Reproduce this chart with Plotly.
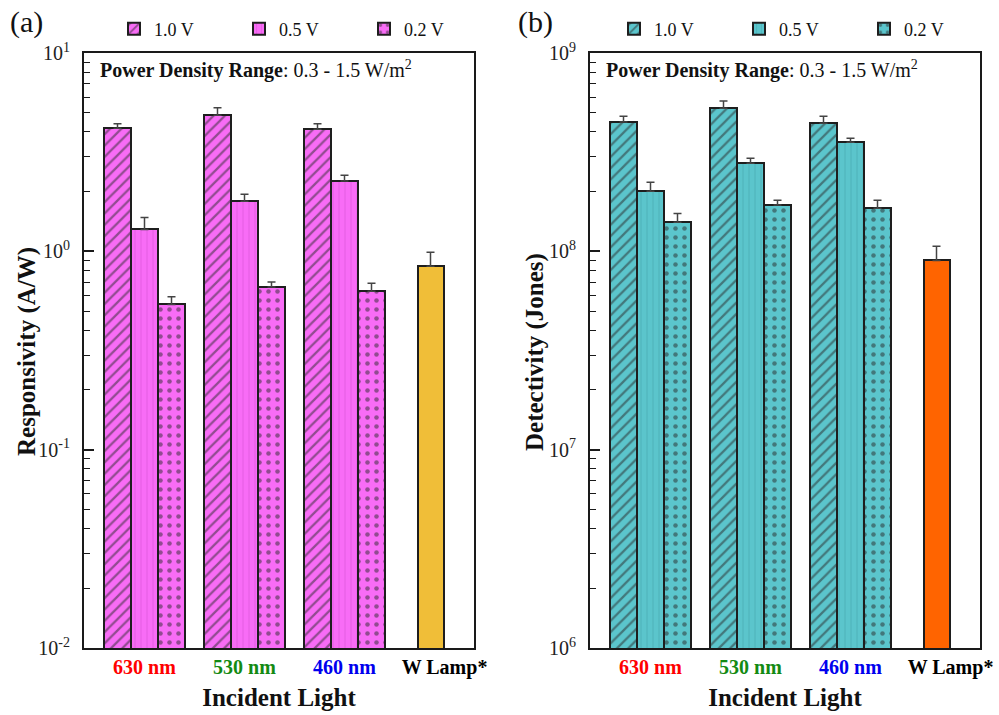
import numpy as np
import plotly.graph_objects as go

# ---- data -------------------------------------------------------------
wavelengths = ["630 nm", "530 nm", "460 nm"]
lamp = "W Lamp*"
bias_labels = ["1.0 V", "0.5 V", "0.2 V"]

# Responsivity (A/W) per bias, for 630 / 530 / 460 nm
resp_10 = [4.18, 4.86, 4.13]
resp_05 = [1.29, 1.79, 2.26]
resp_02 = [0.54, 0.66, 0.63]
resp_10_err = [0.22, 0.44, 0.27]
resp_05_err = [0.19, 0.15, 0.16]
resp_02_err = [0.05, 0.04, 0.06]
resp_lamp = [0.84]
resp_lamp_err = [0.15]

# Detectivity (Jones) per bias, for 630 / 530 / 460 nm
det_10 = [4.49e8, 5.27e8, 4.43e8]
det_05 = [2.01e8, 2.78e8, 3.55e8]
det_02 = [1.40e8, 1.71e8, 1.65e8]
det_10_err = [0.31e8, 0.45e8, 0.37e8]
det_05_err = [0.22e8, 0.17e8, 0.17e8]
det_02_err = [0.15e8, 0.10e8, 0.16e8]
det_lamp = [9.0e7]
det_lamp_err = [1.6e7]

resp_ticks = [0.01, 0.1, 1, 10]
resp_ticktext = ["10<sup>-2</sup>", "10<sup>-1</sup>", "10<sup>0</sup>", "10<sup>1</sup>"]
det_ticks = [1e6, 1e7, 1e8, 1e9]
det_ticktext = ["10<sup>6</sup>", "10<sup>7</sup>", "10<sup>8</sup>", "10<sup>9</sup>"]

cat_colors = ["#FF0000", "#138A13", "#0000EE", "#000000"]

# ---- styling ----------------------------------------------------------
FONT = "Liberation Serif"
BAR_W = 0.27
patterns = ["/", "|", "."]
pink, teal = "#F86CF6", "#5BC5CC"
lamp_colors = ["#F0BE38", "#FF6400"]

fig = go.Figure()


def add_panel(xa, ya, legend_name, base, vals, errs, lvals, lerrs, lamp_color):
    for i, (lab, v, e) in enumerate(zip(bias_labels, vals, errs)):
        shape = patterns[i]
        if shape == "|":
            fg = "#C94AC9" if base == pink else "#3E9BA2"
            size, solidity = 6, 0.15
        elif shape == "/":
            fg, size, solidity = "#2a2a2a", 8, 0.28
        else:
            fg, size, solidity = "#2a2a2a", 9, 0.2
        fig.add_trace(go.Bar(
            x=wavelengths, y=v, name=lab, legend=legend_name,
            xaxis=xa, yaxis=ya, width=BAR_W, offset=-1.5 * BAR_W + i * BAR_W,
            marker=dict(color=base, line=dict(color="#1e1e1e", width=2),
                        pattern=dict(shape=shape, fgcolor=fg, size=size,
                                     solidity=solidity, fillmode="overlay")),
            error_y=dict(type="data", array=e, arrayminus=[0] * len(e), symmetric=False,
                         color="#444444", thickness=1.5, width=4),
        ))
    fig.add_trace(go.Bar(
        x=[lamp], y=lvals, name=lamp, showlegend=False,
        xaxis=xa, yaxis=ya, width=BAR_W - 0.01, offset=-BAR_W,
        marker=dict(color=lamp_color, line=dict(color="#1e1e1e", width=2)),
        error_y=dict(type="data", array=lerrs, arrayminus=[0], symmetric=False,
                     color="#444444", thickness=1.5, width=4),
    ))


add_panel("x", "y", "legend", pink, [resp_10, resp_05, resp_02],
          [resp_10_err, resp_05_err, resp_02_err], resp_lamp, resp_lamp_err, lamp_colors[0])
add_panel("x2", "y2", "legend2", teal, [det_10, det_05, det_02],
          [det_10_err, det_05_err, det_02_err], det_lamp, det_lamp_err, lamp_colors[1])

categories = wavelengths + [lamp]
ticktext = [f"<b><span style='color:{c}'>{t}</span></b>" for t, c in zip(categories, cat_colors)]


def log_minor(lo, hi):
    return [m * 10.0 ** d for d in range(lo, hi) for m in range(2, 10)]


W, H = 999, 715
xdom_a = [84 / W, 474 / W]
xdom_b = [590 / W, 980 / W]
ydom = [67 / H, 662 / H]

xaxis_common = dict(
    type="category", categoryorder="array", categoryarray=categories,
    tickvals=categories, ticktext=ticktext, range=[-0.605, 3.295],
    showline=True, linecolor="#1a1a1a", linewidth=2, mirror=True, ticks="",
    tickfont=dict(family=FONT, size=20), showgrid=False, zeroline=False, automargin=False,
    title=dict(text="<b>Incident Light</b>", font=dict(family=FONT, size=25, color="#111"), standoff=10),
)
yaxis_common = dict(
    type="log", showline=True, linecolor="#1a1a1a", linewidth=2, mirror=True,
    ticks="inside", ticklen=10, tickwidth=1.5, tickcolor="#1a1a1a",
    showgrid=False, zeroline=False, automargin=False,
    tickfont=dict(family=FONT, size=20, color="#222"), ticklabelstandoff=8,
)
minor_common = dict(ticks="inside", ticklen=6, tickwidth=1.2, tickcolor="#1a1a1a")

fig.update_layout(
    width=W, height=H, margin=dict(l=0, r=0, t=0, b=0),
    paper_bgcolor="white", plot_bgcolor="white",
    barmode="overlay", bargap=0,
    font=dict(family=FONT, color="#111"),
    xaxis=dict(domain=xdom_a, anchor="y", **xaxis_common),
    xaxis2=dict(domain=xdom_b, anchor="y2", **xaxis_common),
    yaxis=dict(domain=ydom, anchor="x", range=[-2, 1],
               tickvals=resp_ticks, ticktext=resp_ticktext,
               minor=dict(tickvals=log_minor(-2, 1), **minor_common),
               **yaxis_common),
    yaxis2=dict(domain=ydom, anchor="x2", range=[6, 9],
                tickvals=det_ticks, ticktext=det_ticktext,
                minor=dict(tickvals=log_minor(6, 9), **minor_common),
                **yaxis_common),
    legend=dict(orientation="h", x=114 / W, y=1 - 29 / H, xanchor="left", yanchor="middle",
                font=dict(family=FONT, size=18, color="#111"), entrywidth=80,
                bgcolor="rgba(0,0,0,0)", traceorder="normal"),
    legend2=dict(orientation="h", x=614 / W, y=1 - 29 / H, xanchor="left", yanchor="middle",
                 font=dict(family=FONT, size=18, color="#111"), entrywidth=80,
                 bgcolor="rgba(0,0,0,0)", traceorder="normal"),
)

# y-axis titles, rotated, placed beside the tick labels
for text, xp in (("<b>Responsivity (A/W)</b>", 27), ("<b>Detectivity (Jones)</b>", 535)):
    fig.add_annotation(text=text, xref="paper", yref="paper", x=xp / W, y=(715 - 352) / H,
                       textangle=-90, showarrow=False, xanchor="center", yanchor="middle",
                       font=dict(family=FONT, size=25, color="#111"))

note = "<b>Power Density Range</b>: 0.3 - 1.5 W/m<sup>2</sup>"
for xr, yr in (("x domain", "y domain"), ("x2 domain", "y2 domain")):
    fig.add_annotation(text=note, xref=xr, yref=yr, x=0.035, y=0.972, xanchor="left", yanchor="middle",
                       showarrow=False, font=dict(family=FONT, size=20, color="#111"))

for lab, xp in (("(a)", 8), ("(b)", 516)):
    fig.add_annotation(text=lab, xref="paper", yref="paper", x=xp / W, y=1 - 22 / H,
                       xanchor="left", yanchor="middle", showarrow=False,
                       font=dict(family=FONT, size=30, color="#111"))

fig.write_html("out.html")
